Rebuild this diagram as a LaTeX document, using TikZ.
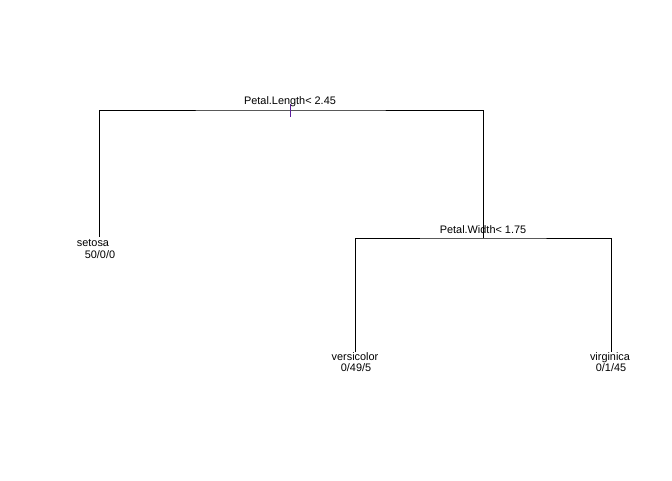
\documentclass[tikz,border=0pt]{standalone}
\usepackage{fontspec}
\setmainfont{Liberation Sans}
\usetikzlibrary{positioning,calc}
\definecolor{trInk}{HTML}{000000}
\definecolor{trTick}{HTML}{5A1E9A}
\tikzset{
  edge/.style={draw=trInk, line width=0.8pt},
  splitlbl/.style={inner sep=0pt, anchor=base, font=\fontsize{10.9}{13}\selectfont, text=trInk},
  leaflbl/.style={splitlbl},
  tickmark/.style={draw=trTick, line width=0.8pt},
}
\begin{document}
\begin{tikzpicture}[x=1pt, y=-1pt]
  \useasboundingbox (0,0) rectangle (672,480);
  % split points and leaf tops
  \coordinate (n1) at (290,110);
  \coordinate (n3) at (483,238);
  \coordinate (l2) at (99,237);
  \coordinate (l6) at (355,352);
  \coordinate (l7) at (611,352);
  % branches
  \draw[edge] (l2) |- (n1) -| (n3);
  \draw[edge] (l6) |- (n3) -| (l7);
  \draw[tickmark] ($(n1)+(0,-6)$) -- ($(n1)+(0,7)$);
  % split labels
  \node[splitlbl] (s1) at (290,104) {Petal.Length< 2.45};
  \node[splitlbl] (s3) at (483,233) {Petal.Width< 1.75};
  % leaves
  \node[leaflbl] (setosa) at (93,246) {setosa};
  \node[leaflbl] (setosaN) at (100,258) {50/0/0};
  \node[leaflbl] (versi) at (355,360) {versicolor};
  \node[leaflbl] (versiN) at (356,371) {0/49/5};
  \node[leaflbl] (virg) at (610,360) {virginica};
  \node[leaflbl] (virgN) at (611,371) {0/1/45};
\end{tikzpicture}
\end{document}
